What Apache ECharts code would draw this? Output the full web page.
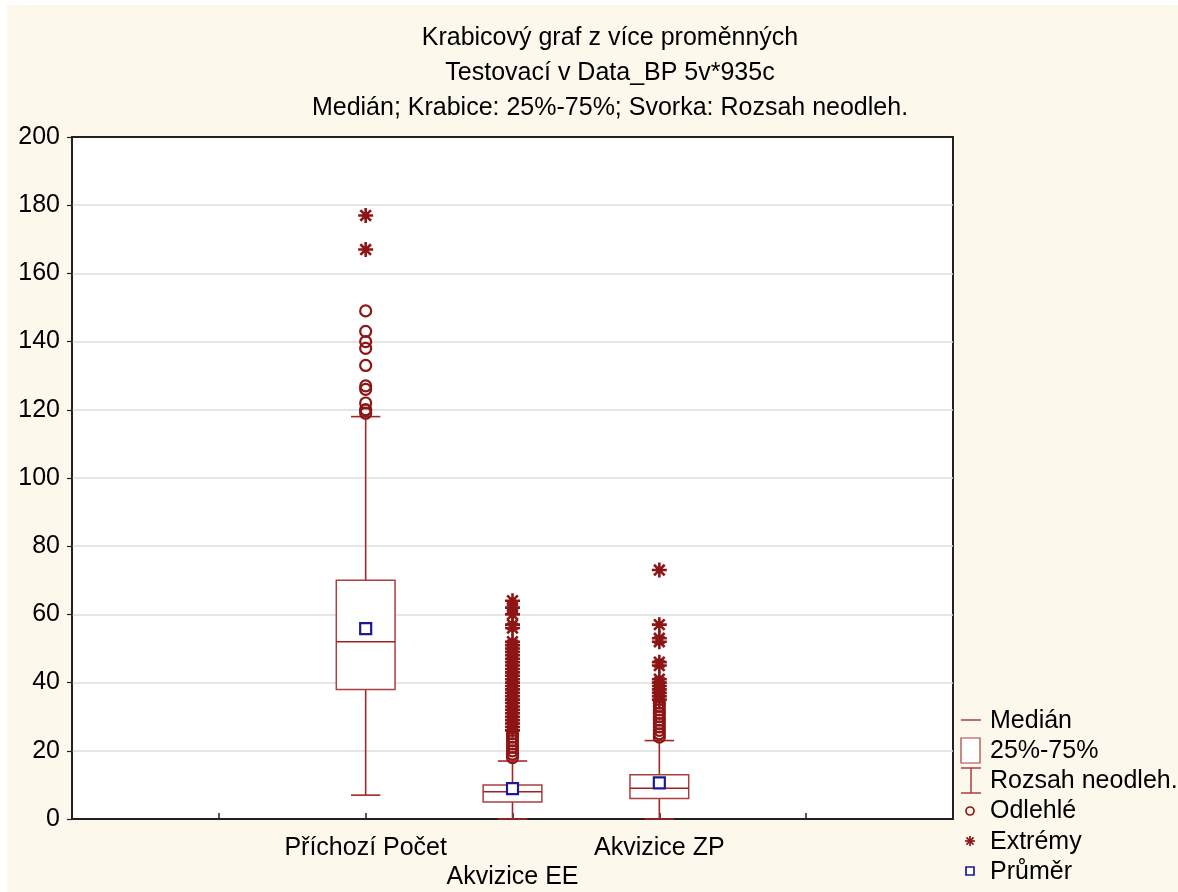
<!DOCTYPE html>
<html>
<head>
<meta charset="utf-8">
<title>Krabicový graf z více proměnných</title>
<script src="https://cdn.jsdelivr.net/npm/echarts@6/dist/echarts.min.js"></script>
<style>
  html, body { margin: 0; padding: 0; background: #ffffff; }
  #chart { width: 1178px; height: 892px; }
</style>
</head>
<body>
<div id="chart"></div>
<script>
// Variables and their summary statistics
const categories = ['Příchozí Počet', 'Akvizice EE', 'Akvizice ZP'];
const lowerWhisker = [7, 0, 0];
const q1 = [38, 5, 6];
const median = [52, 8, 9];
const q3 = [70, 10, 13];
const upperWhisker = [118, 17, 23];
const mean = [55.8, 8.9, 10.6];

// Outliers (circles) and extremes (stars) per variable
const outliers = [
  [119, 120, 120, 122, 126, 127, 133, 138, 140, 143, 149],
  [18, 19, 20, 21, 22, 23, 24, 25],
  [24, 25, 26, 27, 28, 29, 30, 31, 32, 33, 34]
];
const extremes = [
  [167, 177],
  [26, 27, 28, 29, 30, 31, 32, 33, 34, 35, 36, 37, 38, 39, 40, 41, 42, 43, 44, 45, 46, 47, 48, 49, 50, 51, 52, 56, 57, 60, 62, 64],
  [35, 36, 37, 38, 39, 40, 41, 45, 46, 52, 53, 57, 73]
];

// Y axis ticks
const yMin = 0, yMax = 200, yStep = 20;

// Styling
const FONT = 'Liberation Sans';
const FS = 25;
const RED = '#8e1515';
const BOX_RED = '#a93f3f';
const BLUE = '#1a1a99';
const BOX_HALF = 0.2;
const CAP_HALF = 0.1;
const FIRST_POS = 2; // first variable sits at x = 2 on a 0..6 axis

const pos = categories.map((c, i) => i + FIRST_POS);
const labelByPos = {};
categories.forEach((c, i) => { labelByPos[pos[i]] = (i % 2 === 1 ? '\n' : '') + c; });

const boxData = categories.map((c, i) => [pos[i], q1[i], q3[i]]);
const medianData = categories.map((c, i) => [pos[i], median[i]]);
const whiskerData = categories.map((c, i) => [pos[i], lowerWhisker[i], q1[i], q3[i], upperWhisker[i]]);
const outlierData = [];
outliers.forEach((arr, i) => arr.forEach(v => outlierData.push([pos[i], v])));
const extremeData = [];
extremes.forEach((arr, i) => arr.forEach(v => extremeData.push([pos[i], v])));
const meanData = categories.map((c, i) => [pos[i], mean[i]]);

const STAR = 'path://M5 0L5 10M0 5L10 5M1.46 1.46L8.54 8.54M8.54 1.46L1.46 8.54';

const chart = echarts.init(document.getElementById('chart'), null, { renderer: 'canvas' });

// Legend drawn as graphic elements at the right of the plot
const LX = 971, LT = 990;
const legendRows = [
  { y: 720, text: 'Medián' },
  { y: 750, text: '25%-75%' },
  { y: 780, text: 'Rozsah neodleh.' },
  { y: 810, text: 'Odlehlé' },
  { y: 841, text: 'Extrémy' },
  { y: 871, text: 'Průměr' }
];
function starLines(cx, cy, r) {
  const d = r * 0.707;
  const st = { stroke: RED, lineWidth: 1.7 };
  return [
    { type: 'line', shape: { x1: cx, y1: cy - r, x2: cx, y2: cy + r }, style: st },
    { type: 'line', shape: { x1: cx - r, y1: cy, x2: cx + r, y2: cy }, style: st },
    { type: 'line', shape: { x1: cx - d, y1: cy - d, x2: cx + d, y2: cy + d }, style: st },
    { type: 'line', shape: { x1: cx + d, y1: cy - d, x2: cx - d, y2: cy + d }, style: st }
  ];
}
const legendGraphics = [
  { type: 'line', shape: { x1: LX - 10, y1: 720, x2: LX + 10, y2: 720 }, style: { stroke: BOX_RED, lineWidth: 1.5 } },
  { type: 'rect', shape: { x: LX - 10, y: 738, width: 19, height: 25 }, style: { fill: '#fff', stroke: BOX_RED, lineWidth: 1.2 } },
  { type: 'line', shape: { x1: LX, y1: 768, x2: LX, y2: 793 }, style: { stroke: BOX_RED, lineWidth: 1.5 } },
  { type: 'line', shape: { x1: LX - 10, y1: 768, x2: LX + 10, y2: 768 }, style: { stroke: BOX_RED, lineWidth: 1.5 } },
  { type: 'line', shape: { x1: LX - 10, y1: 793, x2: LX + 10, y2: 793 }, style: { stroke: BOX_RED, lineWidth: 1.5 } },
  { type: 'circle', shape: { cx: LX - 1, cy: 811, r: 4 }, style: { fill: 'none', stroke: RED, lineWidth: 1.7 } },
  { type: 'rect', shape: { x: LX - 5, y: 867, width: 8, height: 8 }, style: { fill: '#fff', stroke: BLUE, lineWidth: 1.7 } }
].concat(starLines(LX - 1, 841, 5));
legendRows.forEach(r => legendGraphics.push({
  type: 'text', x: LT, y: r.y + 1,
  style: { text: r.text, font: FS + 'px "' + FONT + '"', fill: '#000', verticalAlign: 'middle' }
}));

const option = {
  backgroundColor: '#fdf8ec',
  animation: false,
  title: {
    text: 'Krabicový graf z více proměnných\nTestovací v Data_BP 5v*935c\nMedián; Krabice: 25%-75%; Svorka: Rozsah neodleh.',
    left: 605,
    top: 16,
    textAlign: 'center',
    textStyle: { fontFamily: FONT, fontSize: FS, fontWeight: 'normal', color: '#000', lineHeight: 35 }
  },
  grid: {
    left: 72, right: 225, top: 137, bottom: 73,
    show: true, backgroundColor: '#ffffff', borderColor: '#222', borderWidth: 2
  },
  xAxis: {
    type: 'value', min: 0, max: 6, interval: 1,
    axisLine: { show: true, lineStyle: { color: '#222', width: 1.5 } },
    axisTick: { show: true, inside: true, length: 6, lineStyle: { color: '#222', width: 1.5 } },
    splitLine: { show: false },
    axisLabel: {
      showMinLabel: false, showMaxLabel: false,
      margin: 15, fontFamily: FONT, fontSize: FS, color: '#000', lineHeight: 29,
      formatter: v => labelByPos[v] || ''
    }
  },
  yAxis: {
    type: 'value', min: yMin, max: yMax, interval: yStep,
    axisLine: { show: true, lineStyle: { color: '#222', width: 1.5 } },
    axisTick: { show: true, inside: false, length: 5, lineStyle: { color: '#222', width: 1.2 } },
    splitLine: { show: true, showMinLine: false, showMaxLine: false, lineStyle: { color: '#dcdcdc', width: 1.5 } },
    axisLabel: { margin: 12, fontFamily: FONT, fontSize: FS, color: '#000' }
  },
  graphic: [
    { type: 'rect', shape: { x: 0, y: 0, width: 1178, height: 5 }, style: { fill: '#ffffff' }, silent: true },
    { type: 'rect', shape: { x: 0, y: 0, width: 7, height: 892 }, style: { fill: '#ffffff' }, silent: true }
  ].concat(legendGraphics),
  series: [
    {
      name: 'Rozsah neodleh.', type: 'custom', z: 2, data: whiskerData,
      renderItem: (params, api) => {
        const x = api.value(0);
        const lo = api.coord([x, api.value(1)]);
        const b1 = api.coord([x, api.value(2)]);
        const b3 = api.coord([x, api.value(3)]);
        const hi = api.coord([x, api.value(4)]);
        const capL = api.coord([x - CAP_HALF, 0])[0];
        const capR = api.coord([x + CAP_HALF, 0])[0];
        const st = { stroke: '#a02828', lineWidth: 1.6 };
        return { type: 'group', children: [
          { type: 'line', shape: { x1: lo[0], y1: lo[1], x2: b1[0], y2: b1[1] }, style: st },
          { type: 'line', shape: { x1: b3[0], y1: b3[1], x2: hi[0], y2: hi[1] }, style: st },
          { type: 'line', shape: { x1: capL, y1: lo[1], x2: capR, y2: lo[1] }, style: st },
          { type: 'line', shape: { x1: capL, y1: hi[1], x2: capR, y2: hi[1] }, style: st }
        ] };
      }
    },
    {
      name: '25%-75%', type: 'custom', z: 3, data: boxData,
      renderItem: (params, api) => {
        const x = api.value(0);
        const p1 = api.coord([x - BOX_HALF, api.value(2)]);
        const p2 = api.coord([x + BOX_HALF, api.value(1)]);
        return { type: 'rect', shape: { x: p1[0], y: p1[1], width: p2[0] - p1[0], height: p2[1] - p1[1] },
                 style: { fill: '#ffffff', stroke: BOX_RED, lineWidth: 1.5 } };
      }
    },
    {
      name: 'Medián', type: 'custom', z: 4, data: medianData,
      renderItem: (params, api) => {
        const x = api.value(0);
        const a = api.coord([x - BOX_HALF, api.value(1)]);
        const b = api.coord([x + BOX_HALF, api.value(1)]);
        return { type: 'line', shape: { x1: a[0], y1: a[1], x2: b[0], y2: b[1] }, style: { stroke: '#9e2222', lineWidth: 1.6 } };
      }
    },
    {
      name: 'Odlehlé', type: 'scatter', z: 5, data: outlierData,
      symbol: 'circle', symbolSize: 11,
      itemStyle: { color: 'rgba(0,0,0,0)', borderColor: RED, borderWidth: 2.2, opacity: 1 }
    },
    {
      name: 'Extrémy', type: 'scatter', z: 5, data: extremeData,
      symbol: STAR, symbolSize: 15,
      itemStyle: { color: 'rgba(0,0,0,0)', borderColor: RED, borderWidth: 2.6, opacity: 1 }
    },
    {
      name: 'Průměr', type: 'scatter', z: 6, data: meanData,
      symbol: 'rect', symbolSize: 11,
      itemStyle: { color: '#ffffff', borderColor: BLUE, borderWidth: 2.2, opacity: 1 }
    }
  ]
};

chart.setOption(option);
</script>
</body>
</html>
